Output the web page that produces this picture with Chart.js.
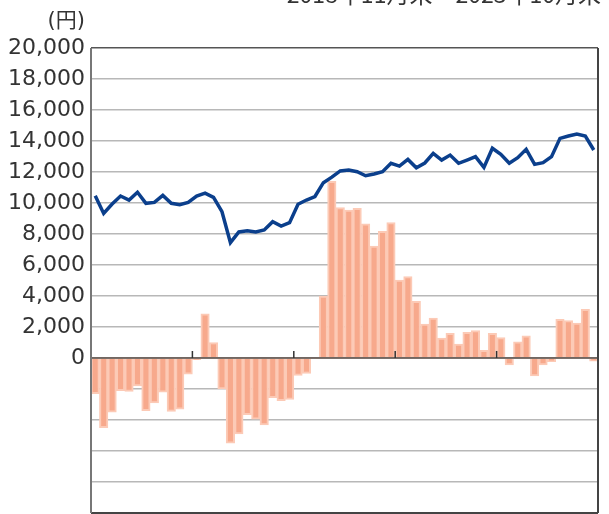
<!DOCTYPE html>
<html>
<head>
<meta charset="utf-8">
<script src="https://cdn.jsdelivr.net/npm/chart.js@4"></script>
<style>
  html, body { margin: 0; padding: 0; background: #fff; }
  #wrap { position: relative; width: 609px; height: 514px; overflow: hidden; }
  #c { position: absolute; left: 0; top: 0; }
  .txt { position: absolute; font-family: "DejaVu Sans", "Noto Sans CJK JP", sans-serif; color: #333; white-space: nowrap; }
  #unit { right: 524px; top: 8px; font-size: 21px; line-height: 24px; }
  #period { right: 8px; top: -19px; font-size: 23px; line-height: 24px; font-family: "Noto Sans CJK JP", "DejaVu Sans", sans-serif; }
</style>
</head>
<body>
<div id="wrap">
  <canvas id="c" width="609" height="514"></canvas>
  <div class="txt" id="unit">(円)</div>
  <div class="txt" id="period">2018年11月末～2023年10月末</div>
</div>
<script>
const months = [
  '2018/11','2018/12','2019/01','2019/02','2019/03','2019/04','2019/05','2019/06','2019/07','2019/08','2019/09','2019/10',
  '2019/11','2019/12','2020/01','2020/02','2020/03','2020/04','2020/05','2020/06','2020/07','2020/08','2020/09','2020/10',
  '2020/11','2020/12','2021/01','2021/02','2021/03','2021/04','2021/05','2021/06','2021/07','2021/08','2021/09','2021/10',
  '2021/11','2021/12','2022/01','2022/02','2022/03','2022/04','2022/05','2022/06','2022/07','2022/08','2022/09','2022/10',
  '2022/11','2022/12','2023/01','2023/02','2023/03','2023/04','2023/05','2023/06','2023/07','2023/08','2023/09','2023/10'
];
const navValues = [
  10470, 9330, 9930, 10450, 10190, 10690, 9980, 10040, 10490, 9980, 9890, 10040,
  10450, 10640, 10360, 9440, 7440, 8130, 8210, 8130, 8260, 8790, 8510, 8730,
  9920, 10190, 10420, 11310, 11670, 12070, 12130, 12020, 11760, 11870, 12020, 12560,
  12380, 12810, 12270, 12580, 13200, 12770, 13090, 12560, 12770, 12990, 12300, 13530,
  13140, 12560, 12920, 13460, 12490, 12600, 12990, 14170, 14320, 14450, 14320, 13420
];
const changeValues = [
  -2300, -4500, -3500, -2100, -2150, -1800, -3400, -2900, -2200, -3450, -3300, -1050,
  -100, 2850, 1000, -2000, -5500, -4900, -3650, -3950, -4320, -2560, -2750, -2670,
  -1120, -1000, 0, 4000, 11400, 9700, 9550, 9650, 8650, 7220, 8170, 8730,
  5030, 5250, 3650, 2190, 2570, 1290, 1590, 900, 1650, 1770, 500, 1590,
  1310, -440, 1050, 1430, -1150, -450, -240, 2490, 2410, 2260, 3140, -200
];
const yMin = -10000, yMax = 20000, yStep = 2000;
const yearBoundaries = [12, 24, 36, 48];

const framePlugin = {
  id: 'frame',
  afterDatasetDraw(chart, args) {
    if (args.index !== 0) return;
    const { ctx, chartArea: a, scales: { x, y } } = chart;
    ctx.save();
    const y0 = y.getPixelForValue(0);
    ctx.strokeStyle = '#5a4c46';
    ctx.lineWidth = 1.5;
    ctx.beginPath();
    ctx.moveTo(a.left, y0); ctx.lineTo(a.right, y0);
    ctx.stroke();
    ctx.strokeStyle = '#333';
    yearBoundaries.forEach(i => {
      const px = (x.getPixelForValue(i - 1) + x.getPixelForValue(i)) / 2;
      ctx.beginPath();
      ctx.moveTo(px, y0); ctx.lineTo(px, y0 - 7);
      ctx.stroke();
    });
    ctx.restore();
  },
  afterDraw(chart) {
    const { ctx, chartArea: a } = chart;
    ctx.save();
    ctx.strokeStyle = '#444';
    ctx.lineWidth = 2;
    ctx.beginPath();
    ctx.moveTo(a.right, a.top); ctx.lineTo(a.right, a.bottom);
    ctx.moveTo(a.left, a.bottom); ctx.lineTo(a.right, a.bottom);
    ctx.stroke();
    ctx.strokeStyle = '#777';
    ctx.beginPath();
    ctx.moveTo(a.left, a.top); ctx.lineTo(a.left, a.bottom);
    ctx.stroke();
    ctx.restore();
  }
};

new Chart(document.getElementById('c'), {
  type: 'bar',
  data: {
    labels: months,
    datasets: [
      {
        type: 'bar',
        label: '騰落額',
        data: changeValues,
        backgroundColor: '#f7a98c',
        borderColor: '#fccab6',
        borderWidth: 2,
        borderSkipped: 'start',
        barPercentage: 1,
        categoryPercentage: 1,
        order: 2
      },
      {
        type: 'line',
        label: '基準価額',
        data: navValues,
        borderColor: '#0b3f8c',
        borderWidth: 3.5,
        pointRadius: 0,
        tension: 0,
        fill: false,
        order: 1
      }
    ]
  },
  options: {
    responsive: false,
    animation: false,
    devicePixelRatio: 1,
    layout: { padding: { top: 48, right: 11, bottom: 1, left: 0 } },
    plugins: { legend: { display: false }, tooltip: { enabled: false }, title: { display: false } },
    scales: {
      x: { display: false, offset: true },
      y: {
        min: yMin, max: yMax,
        afterFit(scale) { scale.width = 91; scale.paddingTop = 0; scale.paddingBottom = 0; },
        border: { display: false },
        grid: {
          drawTicks: false,
          color: c => (c.tick && c.tick.value === yMax) ? '#555' : '#b8b8b8',
          lineWidth: 1.5
        },
        ticks: {
          stepSize: yStep,
          padding: 6,
          color: '#333',
          font: { family: '"DejaVu Sans", sans-serif', size: 22 },
          callback: v => v >= 0 ? v.toLocaleString('en-US') : ''
        }
      }
    }
  },
  plugins: [framePlugin]
});
</script>
</body>
</html>
